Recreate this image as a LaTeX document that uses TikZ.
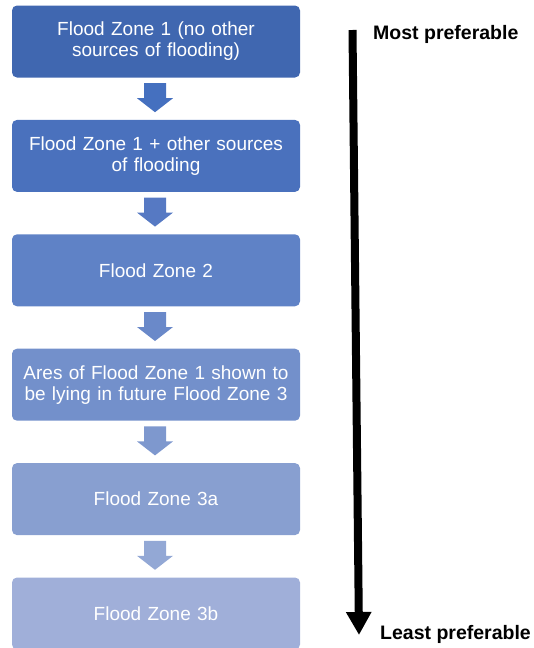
\documentclass[tikz,border=0pt]{standalone}
\usepackage{fontspec}
\setmainfont{Liberation Sans}
\usetikzlibrary{arrows.meta,positioning,calc}

\definecolor{zone1}{HTML}{4067B0}
\definecolor{zone2}{HTML}{4A71BD}
\definecolor{zone3}{HTML}{5F82C6}
\definecolor{zone4}{HTML}{7390CB}
\definecolor{zone5}{HTML}{889FD0}
\definecolor{zone6}{HTML}{A0AFD9}
\definecolor{arr1}{HTML}{4570BF}
\definecolor{arr2}{HTML}{5679C3}
\definecolor{arr3}{HTML}{6A89C9}
\definecolor{arr4}{HTML}{7E98CE}
\definecolor{arr5}{HTML}{93A8D5}

\begin{document}
\begin{tikzpicture}[x=1pt,y=1pt,
	zonebox/.style={rectangle, rounded corners=5pt, minimum width=288pt, minimum height=72pt, text width=282pt, align=center, inner sep=0pt, text=white, font=\fontsize{19}{21}\selectfont},
	ranklabel/.style={anchor=west, inner sep=0pt, font=\fontsize{19.5}{22}\selectfont\bfseries}]
		\useasboundingbox (0,0) rectangle (534,-648);
		
		% Flood zone boxes
		\node[zonebox, fill=zone1] (z1) at (156,-41.5) {Flood Zone 1 (no other\\sources of flooding)};
		\node[zonebox, fill=zone2, below=42pt of z1] (z2) {Flood Zone 1 + other sources\\of flooding};
		\node[zonebox, fill=zone3, below=42pt of z2] (z3) {Flood Zone 2};
		\node[zonebox, fill=zone4, below=42pt of z3] (z4) {Ares of Flood Zone 1 shown to\\be lying in future Flood Zone 3};
		\node[zonebox, fill=zone5, below=42pt of z4] (z5) {Flood Zone 3a};
		\node[zonebox, fill=zone6, below=42pt of z5] (z6) {Flood Zone 3b};
		
		% Block arrows between the boxes
		\foreach \i/\j in {1/2,2/3,3/4,4/5,5/6} {
			\fill[arr\i] ($(z\i.south)+(-12,-5.5)$) -- ++(22,0) -- ++(0,-15) -- ++(7,0) -- ($(z\j.north)+(-1,7.5)$) -- ($(z\i.south)+(-19,-20.5)$) -- ++(7,0) -- cycle;
		}
		
		% Preference arrow
		\coordinate (top) at (352.5,-30);
		\coordinate (bottom) at (359,-635);
		\draw[line width=8pt, -{Triangle[width=24pt,length=23pt]}] (top) -- (bottom);
		\node[ranklabel] (most) at ($(top)+(20.5,-4)$) {Most preferable};
		\node[ranklabel] (least) at ($(bottom)+(21,1)$) {Least preferable};
	\end{tikzpicture}
\end{document}
